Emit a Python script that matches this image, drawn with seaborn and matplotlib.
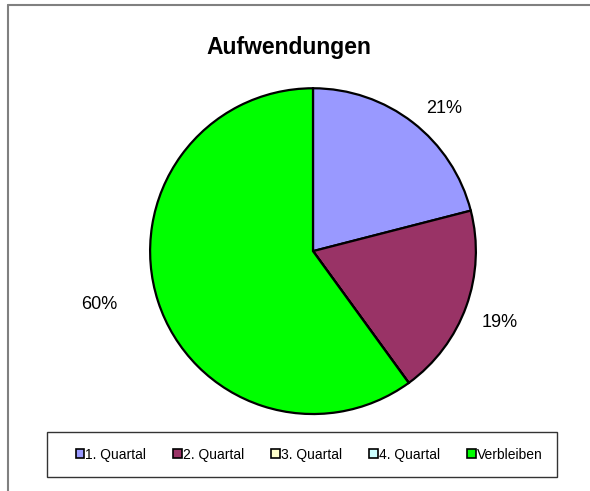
import numpy as np
import seaborn as sns
import matplotlib.pyplot as plt
from matplotlib.lines import Line2D
from matplotlib.patches import Rectangle

# Daten
kategorien = ["1. Quartal", "2. Quartal", "3. Quartal", "4. Quartal", "Verbleiben"]
werte = [21, 19, 0, 0, 60]
farben = ["#9999FF", "#993366", "#FFFFCC", "#CCFFFF", "#00FF00"]
titel = "Aufwendungen"

sns.set_theme(style="white")
plt.rcParams["font.family"] = ["Liberation Sans", "DejaVu Sans"]
plt.rcParams["text.color"] = "black"

fig = plt.figure(figsize=(5.9, 4.91), dpi=100)
ax = fig.add_axes([0.144, 0.024, 0.773, 0.929])


def pct(p):
    return f"{p:.0f}%" if p > 0.5 else ""


wedges, texts, autotexts = ax.pie(
    werte, colors=farben, startangle=90, counterclock=False,
    autopct=pct, pctdistance=1.22,
    wedgeprops=dict(edgecolor="black", linewidth=1.6),
    textprops=dict(fontsize=13, color="black"),
)

# Beschriftungen wie in Excel platzieren (Winkel, Abstand)
lage = {0: (47.5, 1.19), 1: (-21.0, 1.23), 4: (194.0, 1.35)}
for i, (w, r) in lage.items():
    a = np.deg2rad(w)
    autotexts[i].set_position((r * np.cos(a), r * np.sin(a)))

ax.set_xlim(-1.4, 1.4)
ax.set_ylim(-1.4, 1.4)
ax.set_aspect("equal")
ax.axis("off")

fig.text(0.489, 0.903, titel, ha="center", va="center",
         fontsize=16.5, fontweight="bold", color="black")

# Legende
fig.add_artist(Rectangle((0.0797, 0.0285), 0.864, 0.0917, transform=fig.transFigure,
                         facecolor="white", edgecolor="#333333", linewidth=1.0))
handles = [plt.Rectangle((0, 0), 1, 1, facecolor=c, edgecolor="black", linewidth=1.2)
           for c in farben]
leg = fig.legend(handles, kategorien, ncol=5, loc="center",
                 bbox_to_anchor=(0.524, 0.0743), frameon=False,
                 fontsize=10, handlelength=0.6, handleheight=0.6,
                 handletextpad=0.1, columnspacing=1.95, labelcolor="black")

# Rahmen links und oben
fig.add_artist(Line2D([0.0136, 0.0136], [0.0, 0.990], color="#808080", linewidth=1.5))
fig.add_artist(Line2D([0.0136, 1.0], [0.990, 0.990], color="#808080", linewidth=1.5))

fig.savefig("out.png", dpi=100)
